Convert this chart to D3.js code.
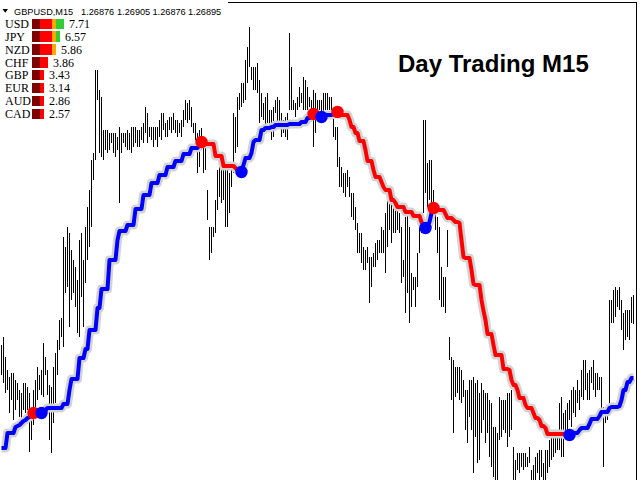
<!DOCTYPE html>
<html><head><meta charset="utf-8">
<script src="https://cdn.jsdelivr.net/npm/d3@7"></script>
<style>html,body{margin:0;padding:0;background:#fff;overflow:hidden}</style>
</head><body>
<svg id="c" width="640" height="480" xmlns="http://www.w3.org/2000/svg"></svg>
<script>
// ---------- data ----------
const symbol = "GBPUSD,M15";
const lastOHLC = ["1.26876", "1.26905", "1.26876", "1.26895"];
const title = "Day Trading M15";
const currencies = ["USD", "JPY", "NZD", "CHF", "GBP", "EUR", "AUD", "CAD"];
const strength = [7.71, 6.57, 5.86, 3.86, 3.43, 3.14, 2.86, 2.57];

// bar highs / lows in points (price * 100000)
const highs = [
126855,126863,126843,126830,126823,126827,126827,126820,126817,126810,
126807,126817,126817,126813,126807,126790,126810,126820,126833,126825,
126830,126857,126843,126830,126815,126813,126833,126847,126860,126880,
126882,126963,126953,126973,126967,126950,126940,126933,126920,126960,
126967,126940,126973,126993,127010,127040,127047,127130,127130,127110,
127103,127070,127070,127070,127067,127067,127067,127067,127063,127073,
127067,127067,127067,127070,127067,127073,127073,127073,127070,127070,
127073,127077,127093,127087,127073,127073,127073,127073,127073,127080,
127087,127087,127077,127080,127083,127083,127087,127080,127080,127077,
127080,127090,127100,127097,127100,127093,127077,127077,127067,127070,
127072,127053,127053,127010,126973,126973,126973,127000,127030,127037,
127037,127043,127030,127033,127027,127037,127087,127083,127103,127107,
127117,127117,127140,127153,127173,127133,127133,127133,127137,127120,
127107,127097,127103,127107,127090,127090,127093,127100,127103,127100,
127087,127080,127083,127087,127167,127133,127100,127097,127103,127113,
127107,127123,127120,127113,127103,127100,127110,127107,127100,127100,
127100,127107,127107,127107,127103,127103,127083,127073,127073,127043,
127033,127027,127027,127030,127023,127007,127007,126993,126977,126967,
126967,126953,126950,126953,126943,126943,126947,126957,126960,126960,
126973,126970,126987,127000,127003,127000,126993,126990,126990,126987,
126973,126940,126983,126987,126973,126927,126923,126923,126947,126973,
126987,127080,127080,127037,127040,127040,127010,126987,126983,126973,
126933,126923,126923,126970,126863,126843,126840,126833,126833,126833,
126830,126820,126810,126810,126820,126820,126823,126817,126820,126807,
126817,126810,126807,126807,126800,126797,126773,126773,126767,126803,
126800,126800,126800,126807,126807,126810,126753,126740,126747,126747,
126747,126747,126747,126743,126753,126730,126735,126743,126747,126750,
126750,126737,126750,126750,126760,126763,126763,126770,126770,126797,
126803,126787,126790,126797,126800,126810,126813,126810,126820,126810,
126830,126840,126840,126827,126830,126833,126840,126827,126827,126823,
126823,126793,126790,126793,126900,126900,126910,126913,126910,126913,
126900,126887,126890,126890,126890,126903,126905
];
const lows = [
126825,126817,126807,126810,126787,126800,126780,126790,126800,126783,
126780,126790,126787,126790,126748,126760,126775,126793,126800,126810,
126805,126803,126825,126805,126760,126747,126777,126797,126825,126850,
126863,126853,126907,126913,126873,126900,126907,126893,126867,126863,
126903,126873,126917,126940,126953,126973,127020,127040,127100,127047,
127043,127040,127050,127047,127050,127057,127047,127043,127050,126997,
127047,127057,127053,127050,127050,127047,127053,127057,127053,127053,
127060,127057,127067,127057,127063,127060,127053,127060,127053,127063,
127060,127070,127063,127063,127070,127067,127070,127067,127063,127067,
127063,127073,127080,127077,127080,127073,127067,127060,127027,127033,
127050,127027,127030,126980,126940,126947,126963,126967,126990,127003,
126997,127000,126973,126973,126987,127013,127027,127047,127053,127090,
127093,127097,127100,127117,127133,127120,127110,127110,127107,127077,
127083,127080,127073,127077,127073,127060,127063,127087,127073,127077,
127063,127067,127063,127060,127090,127090,127090,127083,127090,127093,
127097,127090,127090,127090,127093,127087,127053,127067,127087,127090,
127087,127087,127090,127090,127090,127090,127063,127060,127033,127013,
127013,127007,127003,127013,127003,126983,126980,126970,126947,126947,
126937,126930,126930,126937,126897,126913,126933,126933,126940,126947,
126947,126947,126927,126953,126970,126957,126967,126967,126970,126967,
126917,126923,126887,126907,126877,126893,126910,126893,126913,126947,
126967,126987,127007,126993,127000,126997,126987,126970,126947,126900,
126893,126893,126887,126933,126840,126800,126767,126803,126807,126800,
126797,126803,126770,126757,126783,126770,126727,126763,126737,126740,
126767,126780,126757,126767,126743,126733,126723,126720,126720,126760,
126763,126770,126767,126753,126763,126770,126720,126720,126730,126727,
126733,126730,126733,126733,126737,126710,126710,126720,126727,126720,
126723,126720,126720,126727,126733,126740,126743,126747,126750,126750,
126743,126743,126767,126770,126780,126773,126787,126783,126797,126790,
126803,126800,126810,126800,126800,126817,126810,126803,126810,126810,
126790,126733,126777,126780,126787,126877,126877,126883,126893,126890,
126870,126850,126860,126863,126860,126877,126876
];
// trend line value per bar, in points
const signalLine = [
126752,126752,126752,126767,126767,126767,126767,126773,126774,126775,
126777,126779,126780,126782,126783,126785,126787,126787,126787,126787,
126787,126789,126790,126792,126792,126792,126792,126792,126792,126792,
126792,126796,126796,126796,126810,126821,126821,126821,126821,126842,
126842,126842,126851,126851,126870,126870,126870,126870,126892,126892,
126911,126911,126911,126911,126940,126940,126940,126940,126960,126969,
126969,126969,126969,126975,126975,126975,126975,126991,126991,126991,
126991,127005,127005,127005,127005,127017,127017,127017,127017,127025,
127025,127025,127025,127033,127033,127033,127033,127039,127039,127039,
127039,127046,127046,127046,127046,127052,127052,127052,127052,127055,
127058,127057,127056,127056,127056,127056,127056,127044,127044,127044,
127044,127034,127034,127034,127034,127034,127034,127032,127030,127029,
127028,127035,127042,127042,127042,127047,127058,127060,127060,127060,
127070,127070,127072,127072,127072,127073,127073,127075,127075,127075,
127075,127075,127075,127075,127076,127076,127076,127076,127076,127076,
127078,127078,127078,127082,127082,127084,127086,127085,127084,127083,
127083,127085,127085,127085,127085,127085,127086,127087,127088,127087,
127085,127085,127085,127085,127080,127073,127073,127067,127067,127059,
127059,127059,127050,127039,127039,127039,127030,127023,127023,127023,
127018,127013,127010,127010,127010,127000,127000,126997,126993,126993,
126993,126993,126988,126988,126988,126988,126984,126984,126984,126984,
126978,126974,126972,126974,126978,126987,126992,126990,126990,126990,
126990,126990,126986,126982,126982,126982,126980,126978,126978,126977,
126960,126943,126942,126942,126942,126930,126916,126915,126915,126915,
126900,126889,126880,126866,126866,126866,126855,126845,126845,126845,
126845,126831,126831,126831,126830,126820,126815,126815,126810,126802,
126802,126802,126795,126792,126792,126792,126787,126782,126782,126780,
126774,126774,126772,126766,126766,126766,126766,126766,126766,126766,
126766,126766,126765,126765,126765,126767,126767,126767,126767,126770,
126772,126772,126772,126772,126776,126781,126781,126781,126781,126784,
126788,126788,126788,126788,126792,126793,126793,126793,126793,126794,
126800,126810,126810,126818,126818,126822,126822
];
const buySignals = [20, 120, 160, 212, 284];   // bar indices
const sellSignals = [16, 100, 156, 168, 216];

// ---------- styles ----------
const UP = "#0000ff", DOWN = "#ff0000", HALO = "#d3d3d3";
const blockColors = ["#800000", "#800000", "#ff0000", "#ff0000", "#ff0000", "#ffa500", "#32cd32", "#32cd32", "#32cd32", "#32cd32"];

const svg = d3.select("#c");
const W = 640, H = 480;
svg.append("rect").attr("width", W).attr("height", H).attr("fill", "#fff");

const n = highs.length;
const x = d3.scaleLinear().domain([0, n - 1]).range([1.5, 1.5 + 2 * (n - 1)]);
const y = d3.scaleLinear().domain([1.26720, 1.27200]).range([H, 0]);
const P = v => v / 1e5;

// frame
svg.append("line").attr("x1", 228).attr("x2", 636.5).attr("y1", 2.5).attr("y2", 2.5)
  .attr("stroke", "#000").attr("stroke-width", 1);
svg.append("line").attr("x1", 636.5).attr("x2", 636.5).attr("y1", 2).attr("y2", H)
  .attr("stroke", "#000").attr("stroke-width", 1);

// bars
svg.append("g").attr("shape-rendering", "crispEdges")
  .selectAll("line").data(d3.range(n)).join("line")
  .attr("x1", i => x(i)).attr("x2", i => x(i))
  .attr("y1", i => Math.round(y(P(highs[i])))).attr("y2", i => Math.round(y(P(lows[i]))))
  .attr("stroke", "#000").attr("stroke-width", 1);

// trend
const buySet = new Set(buySignals), sellSet = new Set(sellSignals);
const trend = [];
let cur = "up";
for (let i = 0; i < n; i++) {
  if (buySet.has(i)) cur = "up";
  if (sellSet.has(i)) cur = "down";
  trend.push(cur);
}
const pts = signalLine.map((v, i) => ({ i, v }));
const line = d3.line().x(d => x(d.i)).y(d => y(P(d.v)));

svg.append("path").attr("d", line(pts)).attr("fill", "none")
  .attr("stroke", HALO).attr("stroke-width", 9).attr("stroke-linejoin", "round");

const runs = [];
let start = 0;
for (let i = 1; i <= n; i++) {
  if (i === n || trend[i] !== trend[start]) {
    runs.push({ t: trend[start], from: Math.max(0, start - 1), to: i - 1 });
    start = i;
  }
}
svg.append("g").selectAll("path").data(runs).join("path")
  .attr("d", r => line(pts.slice(r.from, r.to + 1)))
  .attr("fill", "none").attr("stroke", r => r.t === "up" ? UP : DOWN)
  .attr("stroke-width", 4).attr("stroke-linejoin", "round");

// signal dots
svg.append("g").selectAll("circle").data(sellSignals).join("circle")
  .attr("cx", i => x(i)).attr("cy", i => y(P(signalLine[i]))).attr("r", 6.2).attr("fill", DOWN);
svg.append("g").selectAll("circle").data(buySignals).join("circle")
  .attr("cx", i => x(i)).attr("cy", i => y(P(signalLine[i]))).attr("r", 6.2).attr("fill", UP);

// header
svg.append("path").attr("d", "M2.5,9L8,9L5.25,12.8Z").attr("fill", "#000");
svg.append("text").attr("x", 14).attr("y", 14.5).text(symbol)
  .attr("font-family", "Liberation Sans, Arial, sans-serif").attr("font-size", 9.2).attr("fill", "#000");
const priceX = [81, 117, 152.5, 188];
svg.append("g").selectAll("text").data(lastOHLC).join("text")
  .attr("x", (d, k) => priceX[k]).attr("y", 14.5).text(d => d)
  .attr("font-family", "Liberation Sans, Arial, sans-serif").attr("font-size", 9.2).attr("fill", "#000");

// currency strength table
const rowY = d3.scalePoint().domain(currencies).range([28, 118]);
const sx = d3.scaleLinear().domain([0, 10]).range([32, 72]);
const tbl = svg.append("g").attr("font-family", "Liberation Serif, Times New Roman, serif").attr("font-size", 12).attr("fill", "#000");
currencies.forEach((c, k) => {
  const by = rowY(c);
  tbl.append("text").attr("x", 5).attr("y", by).text(c);
  const nb = Math.round(strength[k]);
  tbl.append("g").attr("shape-rendering", "crispEdges").selectAll("rect").data(d3.range(nb)).join("rect")
    .attr("x", b => sx(b)).attr("width", b => sx(b + 1) - sx(b))
    .attr("y", by - 9.5).attr("height", 10.5)
    .attr("fill", b => blockColors[b]);
  tbl.append("text").attr("x", sx(nb) + 5).attr("y", by).text(strength[k].toFixed(2));
});

// title
svg.append("text").attr("x", 398).attr("y", 71.5).text(title)
  .attr("font-family", "Liberation Sans, Arial, sans-serif").attr("font-weight", "bold")
  .attr("font-size", 24).attr("fill", "#000");
</script>
</body></html>
